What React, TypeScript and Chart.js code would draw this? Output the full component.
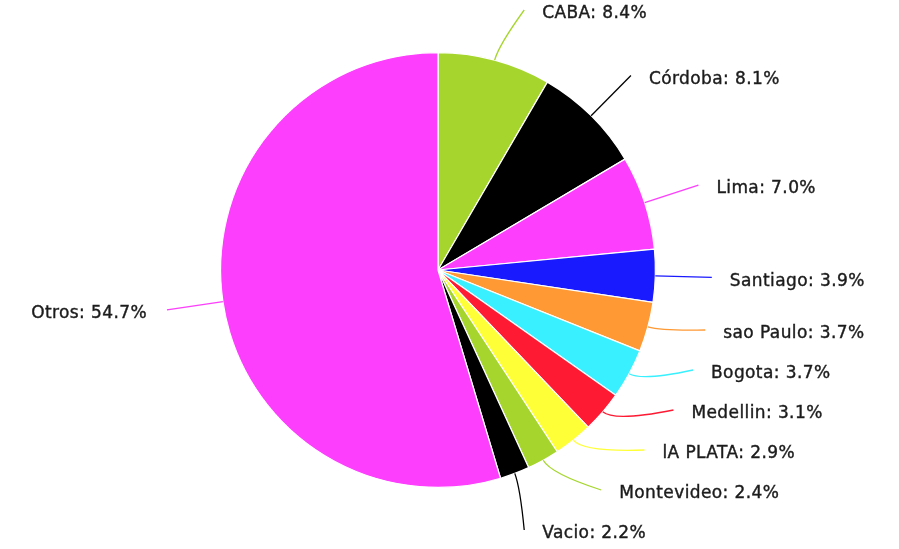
import React, { useEffect, useRef } from "react";
import { Chart, registerables } from "chart.js";

Chart.register(...registerables);

const categories = [
  "CABA",
  "Córdoba",
  "Lima",
  "Santiago",
  "sao Paulo",
  "Bogota",
  "Medellin",
  "lA PLATA",
  "Montevideo",
  "Vacio",
  "Otros",
];
const shares = [8.4, 8.1, 7.0, 3.9, 3.7, 3.7, 3.1, 2.9, 2.4, 2.2, 54.7];
const sliceColors = [
  "#a6d62e",
  "#000000",
  "#fd3ffd",
  "#1a1aff",
  "#ff9933",
  "#38f0ff",
  "#ff1a33",
  "#ffff38",
  "#a6d62e",
  "#000000",
  "#fd3ffd",
];

const outLabels = {
  id: "outLabels",
  afterDatasetsDraw(chart: any) {
    const ctx = chart.ctx as CanvasRenderingContext2D;
    const meta = chart.getDatasetMeta(0);
    const labels = chart.data.labels as string[];
    const values = chart.data.datasets[0].data as number[];
    const colors = chart.data.datasets[0].backgroundColor as string[];
    const items = meta.data.map((arc: any, i: number) => {
      const p = arc.getProps(["x", "y", "startAngle", "endAngle", "outerRadius"], true);
      const mid = (p.startAngle + p.endAngle) / 2;
      const R = p.outerRadius;
      const rEnd = R * 1.26;
      return {
        i,
        cx: p.x,
        cy: p.y,
        R,
        rEnd,
        mid,
        right: Math.cos(mid) >= 0,
        y: p.y + rEnd * Math.sin(mid),
        x: 0,
      };
    });
    const gap = 40;
    const minY = 10;
    const maxY = chart.height - 19;
    for (const side of [true, false]) {
      const g = items.filter((it: any) => it.right === side).sort((a: any, b: any) => a.y - b.y);
      for (let k = 0; k < g.length; k++) {
        const lo = k === 0 ? minY : g[k - 1].y + gap;
        g[k].y = Math.max(g[k].y, lo);
      }
      for (let k = g.length - 1; k >= 0; k--) {
        const hi = k === g.length - 1 ? maxY : g[k + 1].y - gap;
        g[k].y = Math.min(g[k].y, hi);
      }
      for (const it of g) {
        const dy = it.y - it.cy;
        const dx = Math.sqrt(Math.max(0, it.rEnd * it.rEnd - dy * dy));
        it.x = it.cx + (side ? dx : -dx);
      }
    }
    ctx.save();
    for (const it of items) {
      const sx = it.cx + it.R * Math.cos(it.mid);
      const sy = it.cy + it.R * Math.sin(it.mid);
      const rc = it.R * 1.07;
      const qx = it.cx + rc * Math.cos(it.mid);
      const qy = it.cy + rc * Math.sin(it.mid);
      ctx.beginPath();
      ctx.moveTo(sx, sy);
      ctx.quadraticCurveTo(qx, qy, it.x, it.y);
      ctx.strokeStyle = colors[it.i];
      ctx.lineWidth = 1.3;
      ctx.stroke();
    }
    ctx.font = '17px "DejaVu Sans"';
    (ctx as any).letterSpacing = "0.4px";
    ctx.fillStyle = "#1c1c1c";
    ctx.strokeStyle = "#1c1c1c";
    ctx.lineWidth = 0.4;
    ctx.textBaseline = "middle";
    for (const it of items) {
      const text = `${labels[it.i]}: ${values[it.i].toFixed(1)}%`;
      let tx: number;
      if (it.right) {
        ctx.textAlign = "left";
        tx = it.x + 18;
      } else {
        ctx.textAlign = "right";
        tx = it.x - 20;
      }
      ctx.fillText(text, tx, it.y + 4);
      ctx.strokeText(text, tx, it.y + 4);
    }
    ctx.restore();
  },
};

export default function App() {
  const ref = useRef<HTMLCanvasElement>(null);
  useEffect(() => {
    if (!ref.current) return;
    const chart = new Chart(ref.current, {
      type: "pie",
      data: {
        labels: categories,
        datasets: [
          {
            data: shares,
            backgroundColor: sliceColors,
            borderColor: "#ffffff",
            borderWidth: 1.2,
          },
        ],
      },
      options: {
        animation: false,
        responsive: true,
        maintainAspectRatio: false,
        layout: { padding: { left: 220, right: 243, top: 52, bottom: 61 } },
        plugins: {
          legend: { display: false },
          tooltip: { enabled: false },
        },
      },
      plugins: [outLabels],
    });
    return () => chart.destroy();
  }, []);
  return (
    <div style={{ position: "absolute", left: 0, top: 0, width: 899, height: 549, background: "#fff" }}>
      <canvas ref={ref} />
    </div>
  );
}
